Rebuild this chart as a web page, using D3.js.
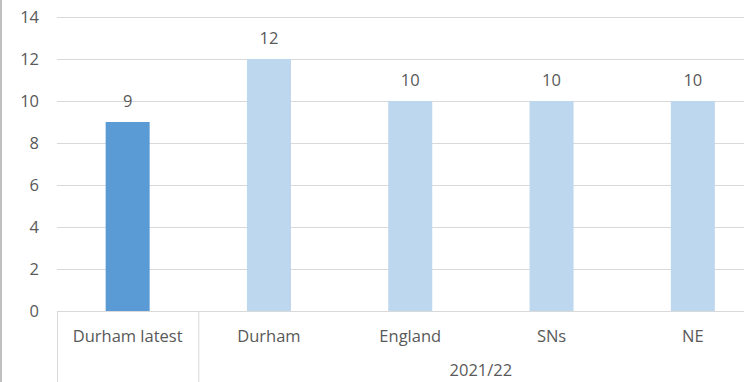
<!DOCTYPE html>
<html>
<head>
<meta charset="utf-8">
<script src="https://cdn.jsdelivr.net/npm/d3@7"></script>
<style>
  html, body { margin: 0; padding: 0; background: #fff; }
  svg text { font-family: "Open Sans", "Liberation Sans", sans-serif; fill: #595959; }
</style>
</head>
<body>
<svg id="chart" width="744" height="382"></svg>
<script>
const categories = ["Durham latest", "Durham", "England", "SNs", "NE"];
const values = [9, 12, 10, 10, 10];
const groupLabels = ["", "2021/22"];
const yTicks = [0, 2, 4, 6, 8, 10, 12, 14];

(function () {
  const svg = d3.select("#chart");
  const W = 744, H = 382;
  const plotLeft = 57, bandW = 141.3;
  const plotTop = 17, plotBottom = 311;
  const fs = 16.5;

  const x = d3.scaleBand()
    .domain(categories)
    .range([plotLeft, plotLeft + bandW * categories.length])
    .paddingInner(0)
    .paddingOuter(0);

  const y = d3.scaleLinear().domain([0, 14]).range([plotBottom, plotTop]);

  // outer frame on the left edge
  svg.append("line")
    .attr("x1", 1).attr("x2", 1).attr("y1", 0).attr("y2", H)
    .attr("stroke", "#bfbfbf").attr("stroke-width", 2);

  // gridlines
  svg.append("g").selectAll("line")
    .data(yTicks)
    .join("line")
    .attr("x1", plotLeft).attr("x2", W)
    .attr("y1", d => y(d) + 0.5).attr("y2", d => y(d) + 0.5)
    .attr("stroke", "#d9d9d9").attr("stroke-width", 1);

  // y axis labels
  svg.append("g").selectAll("text")
    .data(yTicks)
    .join("text")
    .attr("x", 39).attr("y", d => y(d))
    .attr("dy", "0.35em")
    .attr("text-anchor", "end")
    .attr("font-size", fs)
    .text(d => d);

  // bars
  const barW = 44;
  svg.append("g").selectAll("rect")
    .data(categories)
    .join("rect")
    .attr("x", d => x(d) + x.bandwidth() / 2 - barW / 2)
    .attr("width", barW)
    .attr("y", (d, i) => y(values[i]))
    .attr("height", (d, i) => y(0) - y(values[i]))
    .attr("fill", (d, i) => i === 0 ? "#5b9bd5" : "#bdd7ee");

  // value labels
  svg.append("g").selectAll("text")
    .data(categories)
    .join("text")
    .attr("x", d => x(d) + x.bandwidth() / 2)
    .attr("y", (d, i) => y(values[i]) - 21)
    .attr("dy", "0.35em")
    .attr("text-anchor", "middle")
    .attr("font-size", fs)
    .text((d, i) => values[i]);

  // category axis: baseline and group separators
  svg.append("line")
    .attr("x1", plotLeft).attr("x2", W)
    .attr("y1", plotBottom + 0.5).attr("y2", plotBottom + 0.5)
    .attr("stroke", "#d9d9d9");

  const seps = [x(categories[0]), x(categories[1])];
  svg.append("g").selectAll("line")
    .data(seps)
    .join("line")
    .attr("x1", d => d + 0.5).attr("x2", d => d + 0.5)
    .attr("y1", plotBottom).attr("y2", H)
    .attr("stroke", "#d9d9d9");

  svg.append("g").selectAll("text")
    .data(categories)
    .join("text")
    .attr("x", d => x(d) + x.bandwidth() / 2)
    .attr("y", 336)
    .attr("dy", "0.35em")
    .attr("text-anchor", "middle")
    .attr("font-size", fs)
    .text(d => d);

  // group label spanning the 2021/22 categories
  const gStart = x(categories[1]);
  const gEnd = x(categories[categories.length - 1]) + x.bandwidth();
  svg.append("text")
    .attr("x", (gStart + gEnd) / 2)
    .attr("y", 370)
    .attr("dy", "0.35em")
    .attr("text-anchor", "middle")
    .attr("font-size", fs)
    .text(groupLabels[1]);
})();
</script>
</body>
</html>
